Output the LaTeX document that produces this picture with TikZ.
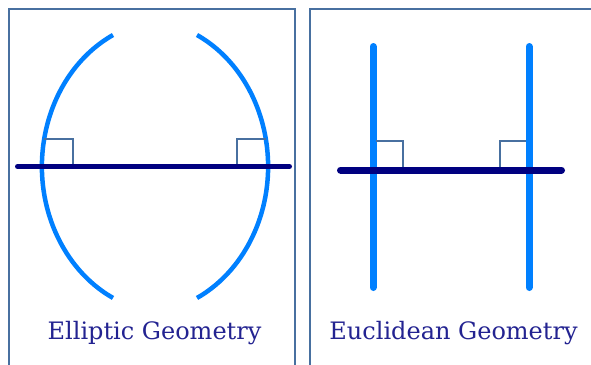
\documentclass[tikz,border=0pt]{standalone}
\usepackage{fontspec}
\setmainfont{DejaVu Serif}
\definecolor{frame}{RGB}{72,112,160}
\definecolor{arcblue}{RGB}{0,128,255}
\definecolor{navy}{RGB}{0,0,128}
\definecolor{labelblue}{RGB}{35,35,145}
\tikzset{
  panel/.style={draw=frame, line width=2pt},
  bluecurve/.style={draw=arcblue, line width=4.5pt, line cap=butt},
  blueline/.style={draw=arcblue, line width=7pt, line cap=round},
  navyline/.style={draw=navy, line cap=round},
  rightmark/.style={draw=frame, line width=1.3pt},
  caption/.style={anchor=base, text=labelblue, font=\fontsize{24}{28}\selectfont, inner sep=0pt}
}
\begin{document}
\begin{tikzpicture}[x=1pt,y=-1pt]
\useasboundingbox (0,0) rectangle (591,364);
\clip (0,0) rectangle (591,364);
\fill[white] (0,0) rectangle (591,364);
% panels
\draw[panel] (8.5,8.5) rectangle (294.5,380);
\draw[panel] (309.5,8.5) rectangle (620,380);
% elliptic
\coordinate (lt) at (113,35);
\coordinate (rt) at (197,35);
\draw[bluecurve] (lt) arc[start angle=243.6, end angle=116.4, x radius=128, y radius=146.8];
\draw[bluecurve] (rt) arc[start angle=-63.6, end angle=63.6, x radius=128, y radius=146.8];
\coordinate (la) at (17.5,166.5);
\coordinate (lb) at (289.5,166.5);
\draw[rightmark] (44,139) -- (73,139) -- (73,165);
\draw[rightmark] (237,165) -- (237,139) -- (266,139);
\draw[navyline, line width=5pt] (la) -- (lb);
\node[caption] (ell) at (154.5,339) {Elliptic Geometry};
% euclidean
\coordinate (v1a) at (373,46.5);
\coordinate (v1b) at (373,287.5);
\coordinate (v2a) at (529,46.5);
\coordinate (v2b) at (529,287.5);
\draw[blueline] (v1a) -- (v1b);
\draw[blueline] (v2a) -- (v2b);
\draw[rightmark] (376,141) -- (403,141) -- (403,167);
\draw[rightmark] (500,167) -- (500,141) -- (526,141);
\coordinate (ha) at (340.5,170);
\coordinate (hb) at (561.5,170);
\draw[navyline, line width=7pt] (ha) -- (hb);
\node[caption] (euc) at (453.5,339) {Euclidean Geometry};
\end{tikzpicture}
\end{document}
